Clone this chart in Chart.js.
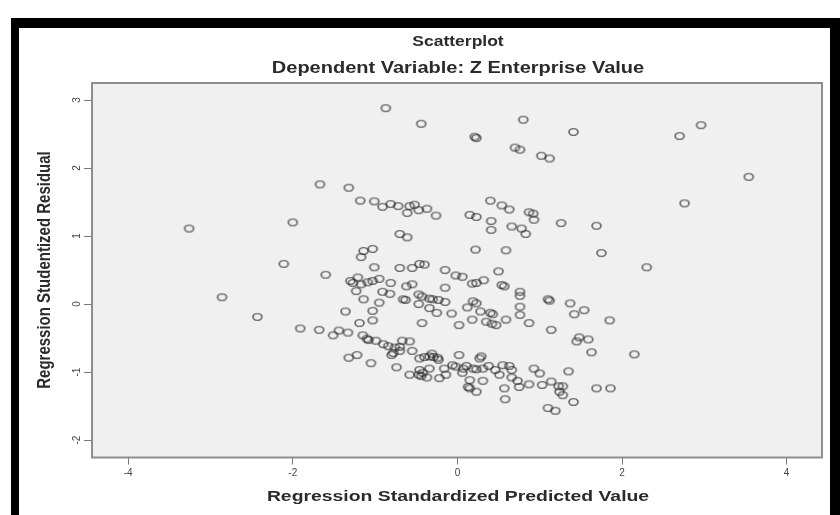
<!DOCTYPE html>
<html>
<head>
<meta charset="utf-8">
<title>Scatterplot</title>
<script src="https://cdn.jsdelivr.net/npm/chart.js@4.4.1/dist/chart.umd.min.js"></script>
<style>
  html, body { margin: 0; padding: 0; background: #fff; }
</style>
</head>
<body>
<canvas id="scatter" width="840" height="515"></canvas>
<script>
// values
var predicted = [
  -1.67, -2.00, -3.26, -2.11, -1.60, -2.86, -2.43, -1.91, -1.68,
  -0.87, -0.44, 0.21, 0.23, 0.80, 0.70, 0.76, 1.02, 1.12,
  -1.32, -1.18, -1.01, -0.91, -0.81, -0.72, -0.61, -0.58, -0.52, -0.47, -0.37, -0.26,
  0.15, 0.23, 0.40, 0.54, 0.63, 0.41, 0.41, 0.66, 0.78, 0.83, 0.87, 0.92, 0.93, 1.26,
  -0.70, -0.61, -1.14, -1.03, -1.17, 0.22, 0.59,
  1.41, 2.70, 2.96, 3.54, 2.76, 1.69, 1.75, 2.30,
  1.54, 1.85, 1.48, 1.45, 1.59, 1.63, 2.15, 1.69, 1.86,
  -1.01, -0.70, -0.55, -0.46, -0.40, -0.15, -0.02, 0.06, 0.50,
  -1.30, -1.27, -1.21, -1.17, -1.09, -1.03, -0.95, -0.81, -0.62, -0.55,
  0.18, 0.23, 0.32, 0.54, 0.57, 0.76, 0.76,
  -1.23, -0.91, -0.82, -0.15,
  -1.14, -0.95, -0.66, -0.63, -0.47, -0.43, -0.34, -0.30, -0.23, -0.15, -0.47,
  0.19, 0.23, 0.12, -0.34, -0.25, -0.07, 0.28, 0.40, 0.43, 0.76, 0.76,
  1.10, 1.12, 1.37, 1.42,
  -1.36, -1.03, -1.03, -1.19, -0.43, 0.02, 0.18, 0.35, 0.42, 0.47, 0.59, 0.87, 1.14,
  -1.51, -1.44, -1.33, -1.15, -1.10, -1.08, -0.99, -0.90, -0.84, -0.76, -0.70, -0.67, -0.58,
  -0.80, -0.78, -0.70, -0.55, -0.46, -0.40, -0.34, -0.29, -0.24, -0.23, -0.31,
  0.02, 0.29, 0.27, -1.32, -1.22, -1.05, -0.74,
  -0.58, -0.47, -0.44, -0.42, -0.37, -0.46, -0.34, -0.22, -0.14, -0.16,
  -0.06, -0.02, 0.07, 0.11, 0.06, 0.15, 0.19, 0.23, 0.31, 0.38, 0.46, 0.51,
  0.55, 0.63, 0.66, 0.31, 0.13, 0.15, 0.23, 0.57, 0.58, 0.66, 0.73, 0.75, 0.87,
  0.93, 1.00, 1.03, 1.14, 1.23, 1.28, 1.24, 1.28, 1.35, 1.41, 1.10, 1.19
];
var residual = [
  1.76, 1.20, 1.11, 0.59, 0.43, 0.10, -0.19, -0.36, -0.38,
  2.88, 2.65, 2.46, 2.44, 2.71, 2.30, 2.27, 2.18, 2.14,
  1.71, 1.52, 1.51, 1.43, 1.47, 1.44, 1.34, 1.44, 1.46, 1.38, 1.40, 1.30,
  1.31, 1.28, 1.52, 1.45, 1.39, 1.22, 1.09, 1.14, 1.11, 1.03, 1.35, 1.33, 1.24, 1.19,
  1.03, 0.98, 0.78, 0.81, 0.69, 0.80, 0.79,
  2.53, 2.47, 2.63, 1.87, 1.48, 1.15, 0.75, 0.54,
  -0.09, -0.24, -0.49, -0.55, -0.52, -0.71, -0.74, -1.24, -1.24,
  0.54, 0.53, 0.53, 0.59, 0.58, 0.50, 0.42, 0.40, 0.48,
  0.34, 0.31, 0.39, 0.29, 0.32, 0.34, 0.37, 0.31, 0.26, 0.29,
  0.30, 0.31, 0.35, 0.28, 0.26, 0.18, 0.12,
  0.19, 0.18, 0.15, 0.24,
  0.07, 0.02, 0.07, 0.06, 0.14, 0.11, 0.08, 0.07, 0.06, 0.03, 0.00,
  0.04, 0.01, -0.05, -0.06, -0.13, -0.14, -0.11, -0.13, -0.15, -0.04, -0.16,
  0.07, 0.05, 0.01, -0.15,
  -0.11, -0.10, -0.24, -0.28, -0.28, -0.31, -0.23, -0.26, -0.29, -0.31, -0.23, -0.28, -0.38,
  -0.46, -0.39, -0.42, -0.46, -0.51, -0.53, -0.54, -0.59, -0.62, -0.64, -0.63, -0.54, -0.55,
  -0.75, -0.72, -0.69, -0.69, -0.80, -0.78, -0.77, -0.78, -0.79, -0.82, -0.73,
  -0.75, -0.77, -0.80, -0.79, -0.75, -0.87, -0.93,
  -1.04, -1.04, -1.06, -1.01, -1.08, -0.97, -0.95, -1.09, -1.04, -0.95,
  -0.90, -0.92, -0.95, -0.91, -1.01, -1.12, -0.95, -0.96, -0.95, -0.91, -0.97, -1.04,
  -0.90, -0.91, -0.97, -1.13, -1.22, -1.24, -1.29, -1.24, -1.40, -1.08, -1.13, -1.22, -1.18,
  -0.95, -1.02, -1.19, -1.14, -1.21, -1.21, -1.29, -1.34, -0.99, -1.44, -1.53, -1.57
];
var xTicks = [-4, -2, 0, 2, 4];
var yTicks = [-2, -1, 0, 1, 2, 3];

var points = predicted.map(function (x, i) {
    return { x: x, y: residual[i] };
});

var FONT = '"Liberation Sans", Arial, sans-serif';
var STRETCH = 1.25; // the source picture is squeezed wider than tall

// hollow marker, a bit wider than tall like in the source
var marker = document.createElement('canvas');
marker.width = 13;
marker.height = 10;
(function () {
    var m = marker.getContext('2d');
    m.translate(6.5, 5);
    m.scale(1.3, 1);
    m.beginPath();
    m.arc(0, 0, 3.4, 0, Math.PI * 2);
    m.lineWidth = 1.4;
    m.strokeStyle = 'rgba(30, 30, 30, 0.62)';
    m.stroke();
})();

function wideText(ctx, text, x, y, size) {
    ctx.save();
    ctx.translate(x, y);
    ctx.scale(STRETCH, 1);
    ctx.font = 'bold ' + size + 'px ' + FONT;
    ctx.fillText(text, 0, 0);
    ctx.restore();
}

// white page, black frame, grey plot box and the titles
var spssFrame = {
    id: 'spssFrame',
    beforeDraw: function (chart) {
        var ctx = chart.ctx;
        var a = chart.chartArea;
        ctx.save();
        ctx.fillStyle = '#ffffff';
        ctx.fillRect(0, 0, chart.width, chart.height);
        ctx.fillStyle = '#000000';
        ctx.fillRect(11, 18, 829, 10);
        ctx.fillRect(11, 18, 8, 497);
        ctx.fillRect(830, 18, 10, 497);
        ctx.fillStyle = '#f0f0f0';
        ctx.fillRect(a.left, a.top, a.right - a.left, a.bottom - a.top);
        ctx.restore();
    },
    afterDatasetsDraw: function (chart) {
        var ctx = chart.ctx;
        var a = chart.chartArea;
        ctx.save();
        ctx.strokeStyle = '#8e8e8e';
        ctx.lineWidth = 2;
        ctx.strokeRect(a.left, a.top, a.right - a.left, a.bottom - a.top);
        ctx.fillStyle = '#2b2b2b';
        ctx.textAlign = 'center';
        ctx.textBaseline = 'middle';
        wideText(ctx, 'Scatterplot', 458, 42, 14);
        wideText(ctx, 'Dependent Variable: Z Enterprise Value', 458, 69, 16);
        wideText(ctx, 'Regression Standardized Predicted Value', 458, 497, 15.5);
        ctx.translate(45, 270);
        ctx.rotate(-Math.PI / 2);
        ctx.scale(1, STRETCH);
        ctx.font = 'bold 15px ' + FONT;
        ctx.fillText('Regression Studentized Residual', 0, 0);
        ctx.restore();
    }
};

new Chart(document.getElementById('scatter'), {
    type: 'scatter',
    data: {
        datasets: [{
            data: points,
            pointStyle: marker,
            pointRadius: 5,
            pointHoverRadius: 5
        }]
    },
    options: {
        responsive: false,
        animation: false,
        layout: { padding: { top: 83, right: 18, left: 0, bottom: 0 } },
        plugins: {
            legend: { display: false },
            tooltip: { enabled: false }
        },
        scales: {
            x: {
                type: 'linear',
                min: -4.44,
                max: 4.43,
                afterBuildTicks: function (s) {
                    s.ticks = xTicks.map(function (v) { return { value: v }; });
                },
                afterFit: function (s) { s.height = 57.5; },
                grid: { drawOnChartArea: false, drawTicks: true, tickLength: 7, color: '#777', lineWidth: 1 },
                border: { display: false },
                ticks: {
                    autoSkip: false, maxRotation: 0, padding: 3, color: '#444',
                    font: { family: FONT, size: 10 }
                }
            },
            y: {
                type: 'linear',
                min: -2.257,
                max: 3.25,
                afterBuildTicks: function (s) {
                    s.ticks = yTicks.map(function (v) { return { value: v }; });
                },
                afterFit: function (s) { s.width = 92; },
                grid: { drawOnChartArea: false, drawTicks: true, tickLength: 8, color: '#777', lineWidth: 1 },
                border: { display: false },
                ticks: {
                    autoSkip: false, minRotation: 90, maxRotation: 90, crossAlign: 'center',
                    padding: 2, color: '#444',
                    font: { family: FONT, size: 10 }
                }
            }
        }
    },
    plugins: [spssFrame]
});
</script>
</body>
</html>
